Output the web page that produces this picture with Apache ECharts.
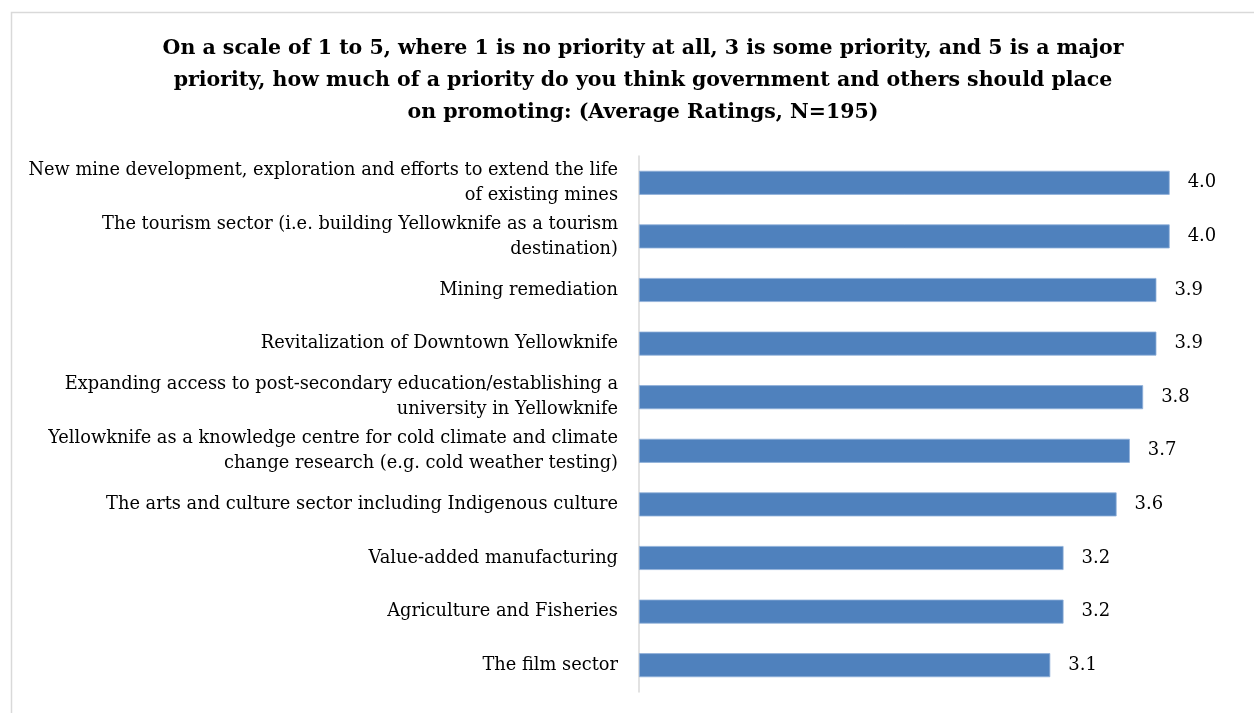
<!DOCTYPE html>
<html>
<head>
<meta charset="utf-8">
<script src="https://cdn.jsdelivr.net/npm/echarts@6/dist/echarts.min.js"></script>
<style>
  html, body { margin: 0; padding: 0; background: #ffffff; }
  #chart { width: 1254px; height: 713px; }
</style>
</head>
<body>
<div id="chart"></div>
<script>
// Survey priorities, average rating on a 1-5 scale
const titleText = 'On a scale of 1 to 5, where 1 is no priority at all, 3 is some priority, and 5 is a major\npriority, how much of a priority do you think government and others should place\non promoting: (Average Ratings, N=195)';

const categories = [
  'New mine development, exploration and efforts to extend the life\nof existing mines',
  'The tourism sector (i.e. building Yellowknife as a tourism\ndestination)',
  'Mining remediation',
  'Revitalization of Downtown Yellowknife',
  'Expanding access to post-secondary education/establishing a\nuniversity in Yellowknife',
  'Yellowknife as a knowledge centre for cold climate and climate\nchange research (e.g. cold weather testing)',
  'The arts and culture sector including Indigenous culture',
  'Value-added manufacturing',
  'Agriculture and Fisheries',
  'The film sector'
];

const averageRatings = [4.0, 4.0, 3.9, 3.9, 3.8, 3.7, 3.6, 3.2, 3.2, 3.1];

const chart = echarts.init(document.getElementById('chart'), null, { renderer: 'canvas' });

chart.setOption({
  backgroundColor: '#ffffff',
  animation: false,
  graphic: [{
    type: 'rect',
    shape: { x: 11.5, y: 12.5, width: 1400, height: 900 },
    style: { fill: 'none', stroke: '#d9d9d9', lineWidth: 1.5 },
    silent: true
  }],
  title: {
    text: titleText,
    left: 638,
    top: 28,
    textAlign: 'center',
    textStyle: {
      fontFamily: 'DejaVu Serif',
      fontWeight: 'bold',
      fontSize: 20.5,
      lineHeight: 32,
      color: '#000000'
    }
  },
  grid: { left: 639, right: 18, top: 156, bottom: 21, containLabel: false },
  xAxis: {
    type: 'value',
    min: 0,
    max: 4.5,
    show: false,
    splitLine: { show: false }
  },
  yAxis: {
    type: 'category',
    data: categories,
    inverse: true,
    axisLine: { show: true, lineStyle: { color: '#d9d9d9', width: 1.5 } },
    axisTick: { show: false },
    axisLabel: {
      margin: 21,
      fontFamily: 'DejaVu Serif',
      fontSize: 17.8,
      lineHeight: 25,
      color: '#000000',
      align: 'right'
    }
  },
  series: [{
    type: 'bar',
    data: averageRatings,
    barWidth: 24,
    itemStyle: { color: '#4f81bd', borderColor: '#8fb0d9', borderWidth: 0.8 },
    label: {
      show: true,
      position: 'right',
      distance: 18,
      fontFamily: 'DejaVu Serif',
      fontSize: 18,
      color: '#000000',
      formatter: p => p.value.toFixed(1)
    }
  }]
});
</script>
</body>
</html>
